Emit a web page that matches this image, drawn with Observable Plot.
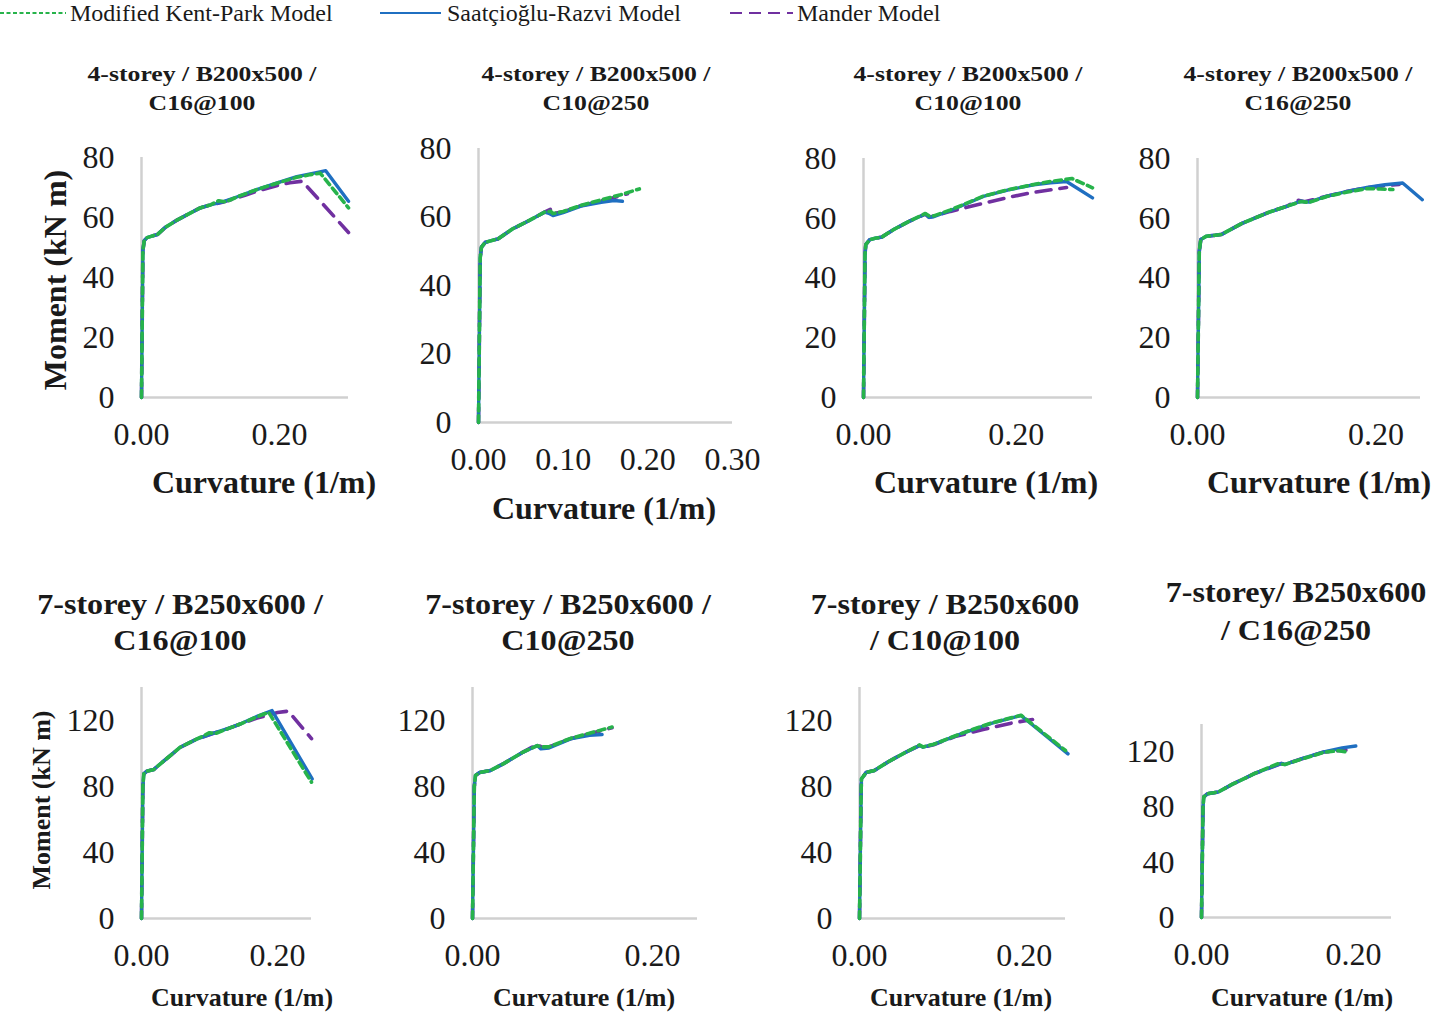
<!DOCTYPE html>
<html>
<head>
<meta charset="utf-8">
<script src="https://cdn.jsdelivr.net/npm/d3@7"></script>
<script src="https://cdn.jsdelivr.net/npm/@observablehq/plot@0.6"></script>
<style>
  html, body { margin: 0; padding: 0; background: #fff; }
  #root { position: relative; width: 1434px; height: 1013px; overflow: hidden; font-family: "Liberation Serif", "Times New Roman", serif; color: #1a1a1a; }
  .t { position: absolute; white-space: nowrap; line-height: 1; transform: translate(-50%, -50%); }
  .b { font-weight: bold; }
  .plotwrap { position: absolute; }
</style>
</head>
<body>
<div id="root"></div>
<script>
// ---------------- Data ----------------
const seriesNames = ["Modified Kent-Park Model", "Saatçioğlu-Razvi Model", "Mander Model"];
const titles = [
  ["4-storey / B200x500 /", "C16@100"],
  ["4-storey / B200x500 /", "C10@250"],
  ["4-storey / B200x500 /", "C10@100"],
  ["4-storey / B200x500 /", "C16@250"],
  ["7-storey / B250x600 /", "C16@100"],
  ["7-storey / B250x600 /", "C10@250"],
  ["7-storey / B250x600", "/ C10@100"],
  ["7-storey/ B250x600", "/ C16@250"]
];
const xLabel = "Curvature (1/m)";
const yLabel = "Moment (kN m)";
const xTicksTop = [0, 0.2];
const xTicksP2 = [0, 0.1, 0.2, 0.3];
const yTicksTop = [0, 20, 40, 60, 80];
const yTicksBottom = [0, 40, 80, 120];

// Panel 1: 4-storey / B200x500 / C16@100  [curvature, moment]
const p1SR = [[0,0],[0.002,49],[0.004,52.3],[0.008,53.3],[0.015,53.8],[0.023,54.3],[0.035,56.8],[0.052,59.2],[0.07,61.4],[0.085,63.2],[0.1,64.2],[0.119,65.3],[0.14,67],[0.168,69.4],[0.2,71.8],[0.225,73.6],[0.25,74.8],[0.267,75.6],[0.3,65.4]];
const p1KP = [[0,0],[0.002,49],[0.004,52.3],[0.008,53.3],[0.015,53.8],[0.023,54.3],[0.035,56.8],[0.052,59.2],[0.07,61.4],[0.085,63.2],[0.1,64.2],[0.112,65.6],[0.122,65.2],[0.14,67],[0.168,69.4],[0.2,71.7],[0.225,73.4],[0.245,74.3],[0.259,74.8],[0.3,63.2]];
const p1MA = [[0,0],[0.002,49],[0.004,52.3],[0.008,53.3],[0.015,53.8],[0.023,54.3],[0.035,56.8],[0.052,59.2],[0.07,61.4],[0.085,63.2],[0.1,64.2],[0.119,65.2],[0.15,67.4],[0.168,68.8],[0.197,70.7],[0.215,71.6],[0.233,72.1],[0.3,55]];

// Panel 2: 4-storey / B200x500 / C10@250
const p2SR = [[0,0],[0.002,48],[0.0035,51.2],[0.008,52.6],[0.015,53.1],[0.023,53.6],[0.04,56.5],[0.06,59],[0.078,61.4],[0.083,61.1],[0.088,60.4],[0.1,61.3],[0.121,63.2],[0.145,64.3],[0.16,64.8],[0.17,64.6]];
const p2KP = [[0,0],[0.002,48],[0.0035,51.2],[0.008,52.6],[0.015,53.1],[0.023,53.6],[0.04,56.5],[0.06,59],[0.078,61.4],[0.085,61.7],[0.088,61],[0.1,61.6],[0.121,63.4],[0.145,65],[0.168,66.5],[0.19,68.2]];
const p2MA = [[0,0],[0.002,48],[0.0035,51.2],[0.008,52.6],[0.015,53.1],[0.023,53.6],[0.04,56.5],[0.06,59],[0.078,61.4],[0.086,62.4],[0.089,61],[0.1,61.5],[0.121,63.3],[0.15,65],[0.176,66.8]];

// Panel 3: 4-storey / B200x500 / C10@100
const p3SR = [[0,0],[0.002,48],[0.003,51.2],[0.008,52.8],[0.015,53.3],[0.024,53.7],[0.04,56.3],[0.06,59],[0.081,61.4],[0.086,60.3],[0.092,60.5],[0.114,62.6],[0.157,67.3],[0.19,69.5],[0.223,71.2],[0.245,71.9],[0.266,72.3],[0.3,66.8]];
const p3KP = [[0,0],[0.002,48],[0.003,51.2],[0.008,52.8],[0.015,53.3],[0.024,53.7],[0.04,56.3],[0.06,59],[0.081,61.6],[0.086,60.8],[0.092,60.8],[0.114,62.8],[0.157,67.4],[0.19,69.6],[0.223,71.3],[0.245,72.3],[0.262,72.9],[0.273,73.3],[0.3,70.2]];
const p3MA = [[0,0],[0.002,48],[0.003,51.2],[0.008,52.8],[0.015,53.3],[0.024,53.7],[0.04,56.3],[0.06,59],[0.081,61.4],[0.086,60.3],[0.1,61.3],[0.114,62.3],[0.157,65],[0.19,67],[0.223,68.7],[0.266,70.3]];

// Panel 4: 4-storey / B200x500 / C16@250
const p4SR = [[0,0],[0.002,49],[0.0037,52.9],[0.01,54],[0.02,54.3],[0.027,54.6],[0.05,58.3],[0.08,62],[0.1,64],[0.116,65.7],[0.125,65.4],[0.145,67.4],[0.168,69],[0.19,70.3],[0.21,71.2],[0.23,71.8],[0.252,66.2]];
const p4KP = [[0,0],[0.002,49],[0.0037,52.9],[0.01,54],[0.02,54.3],[0.027,54.6],[0.05,58.3],[0.08,62],[0.1,64],[0.116,65.6],[0.125,65.3],[0.145,67.3],[0.168,68.8],[0.19,69.9],[0.205,69.8],[0.219,69.6]];
const p4MA = [[0,0],[0.002,49],[0.0037,52.9],[0.01,54],[0.02,54.3],[0.027,54.6],[0.05,58.3],[0.08,62],[0.1,64],[0.113,66],[0.12,65.5],[0.145,67.4],[0.168,69],[0.19,70.2],[0.21,70.9],[0.226,71.3]];

// Panel 5: 7-storey / B250x600 / C16@100
const p5SR = [[0,0],[0.002,80],[0.0034,87.7],[0.008,89.3],[0.018,90.3],[0.03,94.5],[0.057,103.8],[0.08,108.5],[0.106,112.3],[0.13,115.5],[0.146,118],[0.17,122.5],[0.192,126],[0.251,84.6]];
const p5KP = [[0,0],[0.002,80],[0.0034,87.7],[0.008,89.3],[0.018,90.3],[0.03,94.5],[0.057,103.8],[0.08,108.5],[0.1,112.6],[0.108,112],[0.13,115.5],[0.146,118],[0.17,122.3],[0.187,125],[0.25,82.6]];
const p5MA = [[0,0],[0.002,80],[0.0034,87.7],[0.008,89.3],[0.018,90.3],[0.03,94.5],[0.057,103.8],[0.08,108.5],[0.106,112.3],[0.13,115.5],[0.146,118],[0.17,121.5],[0.184,123],[0.2,124.8],[0.216,125.7],[0.25,109]];

// Panel 6: 7-storey / B250x600 / C10@250
const p6SR = [[0,0],[0.002,80],[0.0033,86.7],[0.008,88.5],[0.02,89.7],[0.035,94],[0.055,100.5],[0.072,104.8],[0.076,102.8],[0.085,103.3],[0.109,108.9],[0.13,111],[0.144,111.5]];
const p6KP = [[0,0],[0.002,80],[0.0033,86.7],[0.008,88.5],[0.02,89.7],[0.035,94],[0.055,100.5],[0.072,104.8],[0.076,104],[0.085,104],[0.109,109.2],[0.13,112.3],[0.155,116]];
const p6MA = [[0,0],[0.002,80],[0.0033,86.7],[0.008,88.5],[0.02,89.7],[0.035,94],[0.055,100.5],[0.072,105.5],[0.077,103.8],[0.085,104],[0.109,109],[0.13,112],[0.155,115.6]];

// Panel 7: 7-storey / B250x600 / C10@100
const p7SR = [[0,0],[0.002,78],[0.0024,84.6],[0.008,88.5],[0.018,89.7],[0.035,95],[0.055,100.5],[0.073,104.8],[0.077,103.8],[0.09,105.5],[0.124,112],[0.16,118.3],[0.196,123],[0.253,99.8]];
const p7KP = [[0,0],[0.002,78],[0.0024,84.6],[0.008,88.5],[0.018,89.7],[0.035,95],[0.055,100.5],[0.073,105.2],[0.077,104],[0.09,105.6],[0.124,112.2],[0.16,118.5],[0.196,123.2],[0.25,101.8]];
const p7MA = [[0,0],[0.002,78],[0.0024,84.6],[0.008,88.5],[0.018,89.7],[0.035,95],[0.055,100.5],[0.073,104.8],[0.077,103.8],[0.09,105.3],[0.116,110.3],[0.15,114.5],[0.184,118.4],[0.21,120.6]];

// Panel 8: 7-storey/ B250x600 / C16@250
const p8SR = [[0,0],[0.002,80],[0.003,87.5],[0.008,89.8],[0.022,91],[0.04,96.5],[0.07,104.5],[0.105,111.7],[0.11,111],[0.13,114.8],[0.161,120.2],[0.185,123],[0.203,124.4]];
const p8KP = [[0,0],[0.002,80],[0.003,87.5],[0.008,89.8],[0.022,91],[0.04,96.5],[0.07,104.5],[0.1,111.5],[0.11,111],[0.13,114.6],[0.161,119.8],[0.18,121],[0.19,120.2]];
const p8MA = [[0,0],[0.002,80],[0.003,87.5],[0.008,89.8],[0.022,91],[0.04,96.5],[0.07,104.5],[0.105,111.7],[0.11,111.2],[0.13,114.8],[0.161,120],[0.19,121.5]];

// ---------------- Layout / styles ----------------
const COLORS = { KP: "#27b34b", SR: "#1f6fc1", MA: "#7030a0" };
const AXIS = "#d0d0d0";

const panels = [
  { kp: p1KP, sr: p1SR, ma: p1MA, x0: 141, x1: 348, yt: 157, yb: 397, xmax: 0.3, ymax: 80, xt: xTicksTop, yt_: yTicksTop,
    title: titles[0], tx: 202, ty1: 74, ty2: 103, top: true, xlx: 264, xly: 482 },
  { kp: p2KP, sr: p2SR, ma: p2MA, x0: 478, x1: 732, yt: 148, yb: 422, xmax: 0.3, ymax: 80, xt: xTicksP2, yt_: yTicksTop,
    title: titles[1], tx: 596, ty1: 74, ty2: 103, top: true, xlx: 604, xly: 508 },
  { kp: p3KP, sr: p3SR, ma: p3MA, x0: 863, x1: 1092, yt: 158, yb: 397, xmax: 0.3, ymax: 80, xt: xTicksTop, yt_: yTicksTop,
    title: titles[2], tx: 968, ty1: 74, ty2: 103, top: true, xlx: 986, xly: 482 },
  { kp: p4KP, sr: p4SR, ma: p4MA, x0: 1197, x1: 1420, yt: 158, yb: 397, xmax: 0.25, ymax: 80, xt: xTicksTop, yt_: yTicksTop,
    title: titles[3], tx: 1298, ty1: 74, ty2: 103, top: true, xlx: 1319, xly: 482 },
  { kp: p5KP, sr: p5SR, ma: p5MA, x0: 141, x1: 311, yt: 687, yb: 918, xmax: 0.25, ymax: 140, xt: xTicksTop, yt_: yTicksBottom,
    title: titles[4], tx: 180, ty1: 604, ty2: 640, top: false, xlx: 242, xly: 998 },
  { kp: p6KP, sr: p6SR, ma: p6MA, x0: 472, x1: 697, yt: 687, yb: 918, xmax: 0.25, ymax: 140, xt: xTicksTop, yt_: yTicksBottom,
    title: titles[5], tx: 568, ty1: 604, ty2: 640, top: false, xlx: 584, xly: 998 },
  { kp: p7KP, sr: p7SR, ma: p7MA, x0: 859, x1: 1065, yt: 687, yb: 918, xmax: 0.25, ymax: 140, xt: xTicksTop, yt_: yTicksBottom,
    title: titles[6], tx: 945, ty1: 604, ty2: 640, top: false, xlx: 961, xly: 998 },
  { kp: p8KP, sr: p8SR, ma: p8MA, x0: 1201, x1: 1391, yt: 724, yb: 917, xmax: 0.25, ymax: 140, xt: xTicksTop, yt_: yTicksBottom,
    title: titles[7], tx: 1296, ty1: 592, ty2: 630, top: false, xlx: 1302, xly: 998 }
];

const root = document.getElementById("root");

function addText(txt, x, y, cls, css) {
  const d = document.createElement("div");
  d.className = "t " + (cls || "");
  d.textContent = txt;
  Object.assign(d.style, { left: x + "px", top: y + "px" }, css || {});
  root.appendChild(d);
  return d;
}

// Legend
(function legend() {
  const items = [
    { name: seriesNames[0], color: COLORS.KP, dash: "4,2.5", x0: 0, x1: 66, tx: 70 },
    { name: seriesNames[1], color: COLORS.SR, dash: null, x0: 380, x1: 441, tx: 447 },
    { name: seriesNames[2], color: COLORS.MA, dash: "12,7", x0: 730, x1: 793, tx: 797 }
  ];
  const ns = "http://www.w3.org/2000/svg";
  const svg = document.createElementNS(ns, "svg");
  svg.setAttribute("width", 1000); svg.setAttribute("height", 28);
  svg.style.position = "absolute"; svg.style.left = "0px"; svg.style.top = "0px";
  for (const it of items) {
    const l = document.createElementNS(ns, "line");
    l.setAttribute("x1", it.x0); l.setAttribute("x2", it.x1);
    l.setAttribute("y1", 13); l.setAttribute("y2", 13);
    l.setAttribute("stroke", it.color); l.setAttribute("stroke-width", 2);
    if (it.dash) l.setAttribute("stroke-dasharray", it.dash);
    svg.appendChild(l);
    const t = document.createElementNS(ns, "text");
    t.setAttribute("x", it.tx); t.setAttribute("y", 21);
    t.setAttribute("font-family", "Liberation Serif, Times New Roman, serif");
    t.setAttribute("font-size", 24);
    t.setAttribute("fill", "#1a1a1a");
    t.textContent = it.name;
    svg.appendChild(t);
  }
  root.appendChild(svg);
})();

// Panels
const ML = 110, MR = 45, MT = 22, MB = 62;
panels.forEach((p, i) => {
  const w = ML + (p.x1 - p.x0) + MR;
  const h = MT + (p.yb - p.yt) + MB;
  const chart = Plot.plot({
    width: w, height: h,
    marginLeft: ML, marginRight: MR, marginTop: MT, marginBottom: MB,
    x: { domain: [0, p.xmax], axis: null },
    y: { domain: [0, p.ymax], axis: null },
    style: { background: "transparent", overflow: "visible", maxWidth: "none", fontFamily: "Liberation Serif, Times New Roman, serif", fontSize: "32px", color: "#1a1a1a" },
    marks: [
      Plot.ruleX([0], { stroke: AXIS, strokeWidth: 2.5 }),
      Plot.ruleY([0], { stroke: AXIS, strokeWidth: 2.5 }),
      Plot.axisX(p.xt, { anchor: "bottom", tickSize: 0, tickPadding: 25, tickFormat: d3.format(".2f"), label: null, fontSize: 32, fill: "#1a1a1a" }),
      Plot.axisY(p.yt_, { anchor: "left", tickSize: 0, tickPadding: 27, tickFormat: d3.format("d"), label: null, fontSize: 32, fill: "#1a1a1a" }),
      Plot.line(p.ma, { x: d => d[0], y: d => d[1], stroke: COLORS.MA, strokeWidth: 3.6, strokeDasharray: "15,9" }),
      Plot.line(p.sr, { x: d => d[0], y: d => d[1], stroke: COLORS.SR, strokeWidth: 3.4 }),
      Plot.line(p.kp, { x: d => d[0], y: d => d[1], stroke: COLORS.KP, strokeWidth: 3.6, strokeDasharray: "7,4.5" })
    ]
  });
  const wrap = document.createElement("div");
  wrap.className = "plotwrap";
  wrap.style.left = (p.x0 - ML) + "px";
  wrap.style.top = (p.yt - MT) + "px";
  wrap.appendChild(chart);
  root.appendChild(wrap);

  // titles
  if (p.top) {
    addText(p.title[0], p.tx, p.ty1, "b", { fontSize: "22px", transform: "translate(-50%,-50%) scaleX(1.17)" });
    addText(p.title[1], p.tx, p.ty2, "b", { fontSize: "22px", transform: "translate(-50%,-50%) scaleX(1.17)" });
    addText(xLabel, p.xlx, p.xly, "b", { fontSize: "32px" });
  } else {
    addText(p.title[0], p.tx, p.ty1, "b", { fontSize: "30px", transform: "translate(-50%,-50%) scaleX(1.07)" });
    addText(p.title[1], p.tx, p.ty2, "b", { fontSize: "30px", transform: "translate(-50%,-50%) scaleX(1.07)" });
    addText(xLabel, p.xlx, p.xly, "b", { fontSize: "26px" });
  }
});

// Y axis labels
addText(yLabel, 55, 280, "b", { fontSize: "32px", transform: "translate(-50%,-50%) rotate(-90deg)" });
addText(yLabel, 42, 800, "b", { fontSize: "26px", transform: "translate(-50%,-50%) rotate(-90deg)" });
</script>
</body>
</html>
